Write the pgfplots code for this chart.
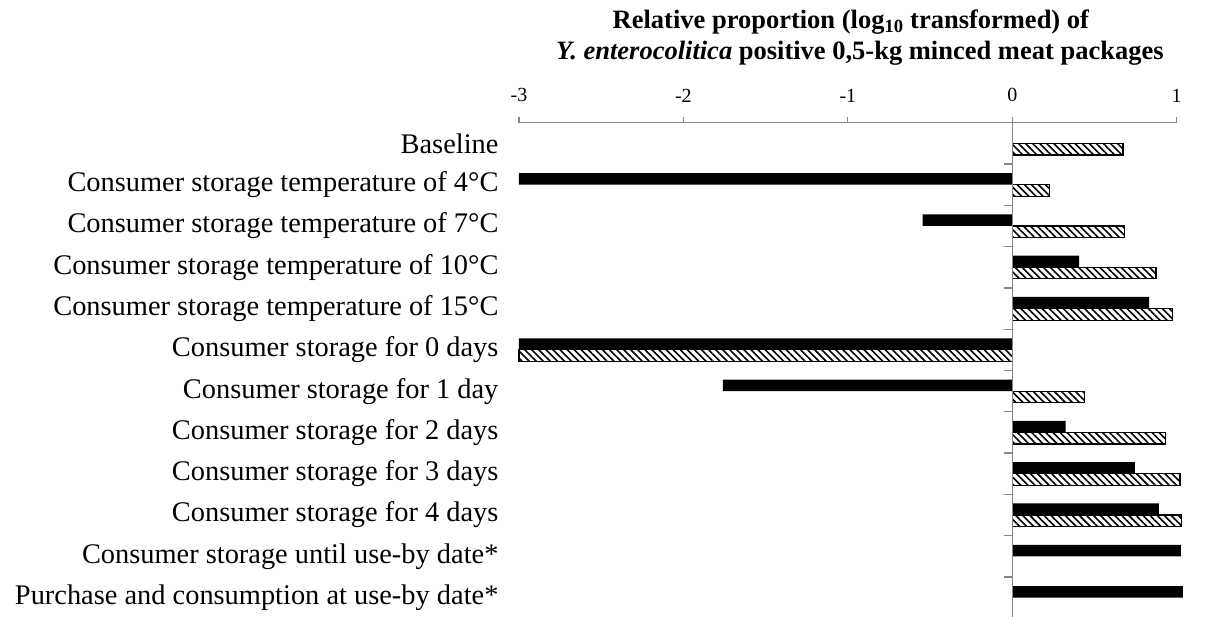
\documentclass[border=0pt]{standalone}
\usepackage{fontspec}
\setmainfont{Liberation Serif}
\usepackage{pgfplots}
\pgfplotsset{compat=1.18}
\usetikzlibrary{patterns.meta}
\definecolor{axgray}{RGB}{134,134,134}
\begin{document}
\begin{tikzpicture}
\begin{axis}[
  scale only axis, width=657.7pt, height=495.6pt,
  xmin=-3, xmax=1, ymin=-0.5, ymax=11.5, y dir=reverse,
  axis x line*=top, axis y line*=left,
  y axis line style={draw=none},
  x axis line style={axgray, line width=1.3pt, -},
  xtick={-3,-2,-1,0,1},
  x tick style={axgray, line width=1.3pt},
  major tick length=6pt, tick align=outside,
  ytick={0,...,11},
  y tick style={draw=none},
  yticklabels={Baseline,
    Consumer storage temperature of 4°C,
    Consumer storage temperature of 7°C,
    Consumer storage temperature of 10°C,
    Consumer storage temperature of 15°C,
    Consumer storage for 0 days,
    Consumer storage for 1 day,
    Consumer storage for 2 days,
    Consumer storage for 3 days,
    Consumer storage for 4 days,
    Consumer storage until use-by date*,
    Purchase and consumption at use-by date*},
  xbar, bar width=0.28,
  clip=false,
  /pgf/number format/assume math mode=true,
  yticklabel style={font=\fontsize{28.4}{32}\selectfont, xshift=-11pt},
  xticklabel style={font=\fontsize{20}{24}\selectfont, yshift=11pt},
]
\addplot[fill=black, draw=none, bar shift=-0.14] coordinates {
  (-3,1) (-0.545,2) (0.406,3) (0.833,4) (-3,5) (-1.76,6)
  (0.325,7) (0.746,8) (0.892,9) (1.026,10) (1.038,11)};
\addplot[pattern={Lines[angle=-45,distance=5pt,line width=1.6pt]}, draw=black, line width=1.2pt, bar shift=0.14] coordinates {
  (0.674,0) (0.227,1) (0.683,2) (0.874,3) (0.976,4) (-3,5) (0.439,6)
  (0.933,7) (1.02,8) (1.03,9)};
\coordinate (SW) at (axis cs:-3,11.5);
\coordinate (Z) at (axis cs:0,11.5);
\coordinate (T) at (axis cs:-1,-0.5);
\end{axis}
\begin{axis}[
  at={(Z)}, anchor=south west,
  scale only axis, width=164.4pt, height=495.6pt,
  xmin=0, xmax=1, ymin=-0.5, ymax=11.5, y dir=reverse,
  axis x line=none, axis y line*=left,
  y axis line style={axgray, line width=1.3pt, -},
  ytick={0.5,1.5,...,10.5}, yticklabels={},
  y tick style={axgray, line width=1.3pt},
  major tick length=8pt, tick align=outside,
]
\addplot[draw=none] coordinates {(0,0)};
\end{axis}
\node[anchor=base, font=\bfseries\fontsize{26.5}{31}\selectfont] at ([shift={(3pt,94.4pt)}]T) {Relative proportion (log\textsubscript{10} transformed) of};
\node[anchor=base, font=\bfseries\fontsize{26.5}{31}\selectfont] at ([shift={(12pt,63.4pt)}]T) {\textit{Y. enterocolitica} positive 0,5-kg minced meat packages};
\pgfresetboundingbox
\useasboundingbox ([shift={(-519pt,1.3pt)}]SW) rectangle ([shift={(689pt,618.3pt)}]SW);
\end{tikzpicture}
\end{document}
